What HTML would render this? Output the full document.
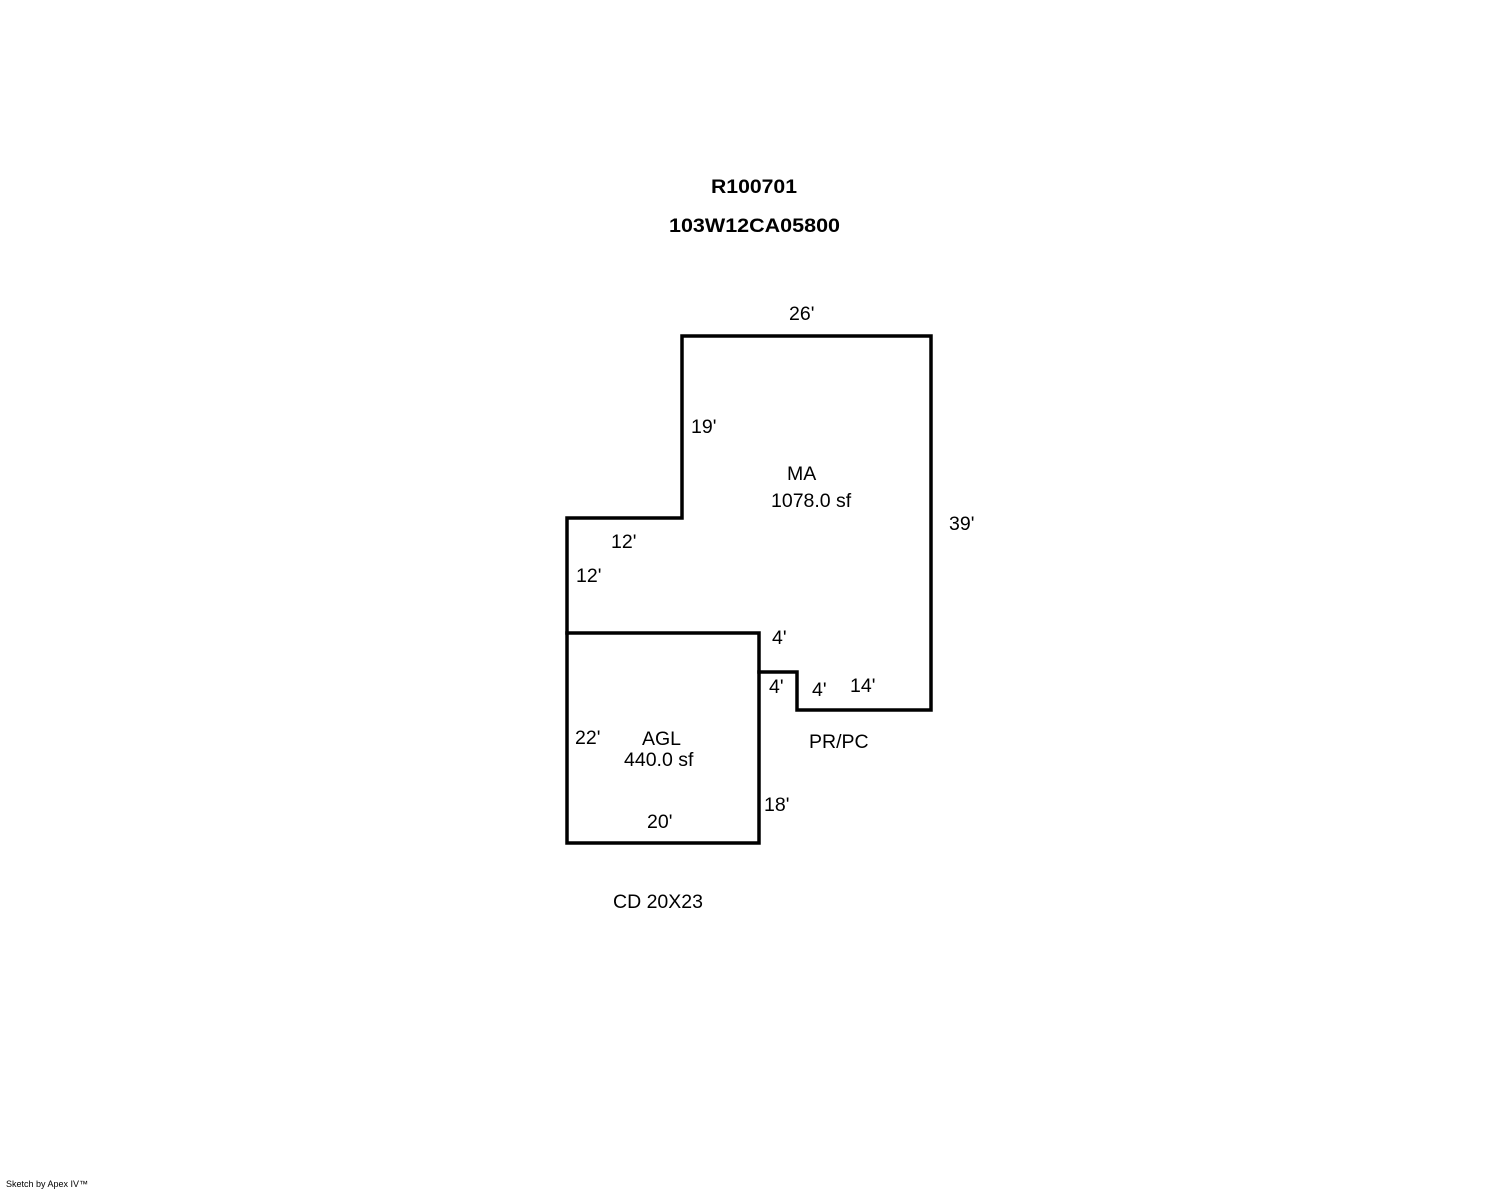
<!DOCTYPE html>
<html><head><style>body{margin:0;background:#fff}svg{display:block}</style></head>
<body>
<svg width="1488" height="1190" xmlns="http://www.w3.org/2000/svg" font-family="Liberation Sans, Arial, sans-serif" font-size="19.5">
<rect width="1488" height="1190" fill="#fff"/>
<g fill="none" stroke="#000" stroke-width="3.5" stroke-linejoin="miter" stroke-linecap="square">
<path d="M567 633 L567 518 L682 518 L682 336 L931 336 L931 710 L797 710 L797 672 L759 672"/>
<rect x="567" y="633" width="192" height="210"/>
</g>
<g fill="#000" font-weight="bold" font-size="19">
<text x="711" y="193" textLength="86" lengthAdjust="spacingAndGlyphs">R100701</text>
<text x="669" y="232" textLength="171" lengthAdjust="spacingAndGlyphs">103W12CA05800</text>
</g>
<g fill="#000">
<text x="789" y="320">26'</text>
<text x="691" y="433">19'</text>
<text x="787" y="480">MA</text>
<text x="771" y="507">1078.0 sf</text>
<text x="949" y="530">39'</text>
<text x="611" y="548">12'</text>
<text x="576" y="582">12'</text>
<text x="772" y="644">4'</text>
<text x="769" y="693">4'</text>
<text x="812" y="696">4'</text>
<text x="850" y="692">14'</text>
<text x="575" y="744">22'</text>
<text x="642" y="745">AGL</text>
<text x="624" y="766">440.0 sf</text>
<text x="809" y="748">PR/PC</text>
<text x="764" y="811">18'</text>
<text x="647" y="828">20'</text>
<text x="613" y="908">CD 20X23</text>
<text x="6" y="1187" font-size="9">Sketch by Apex IV™</text>
</g>
</svg>
</body></html>
